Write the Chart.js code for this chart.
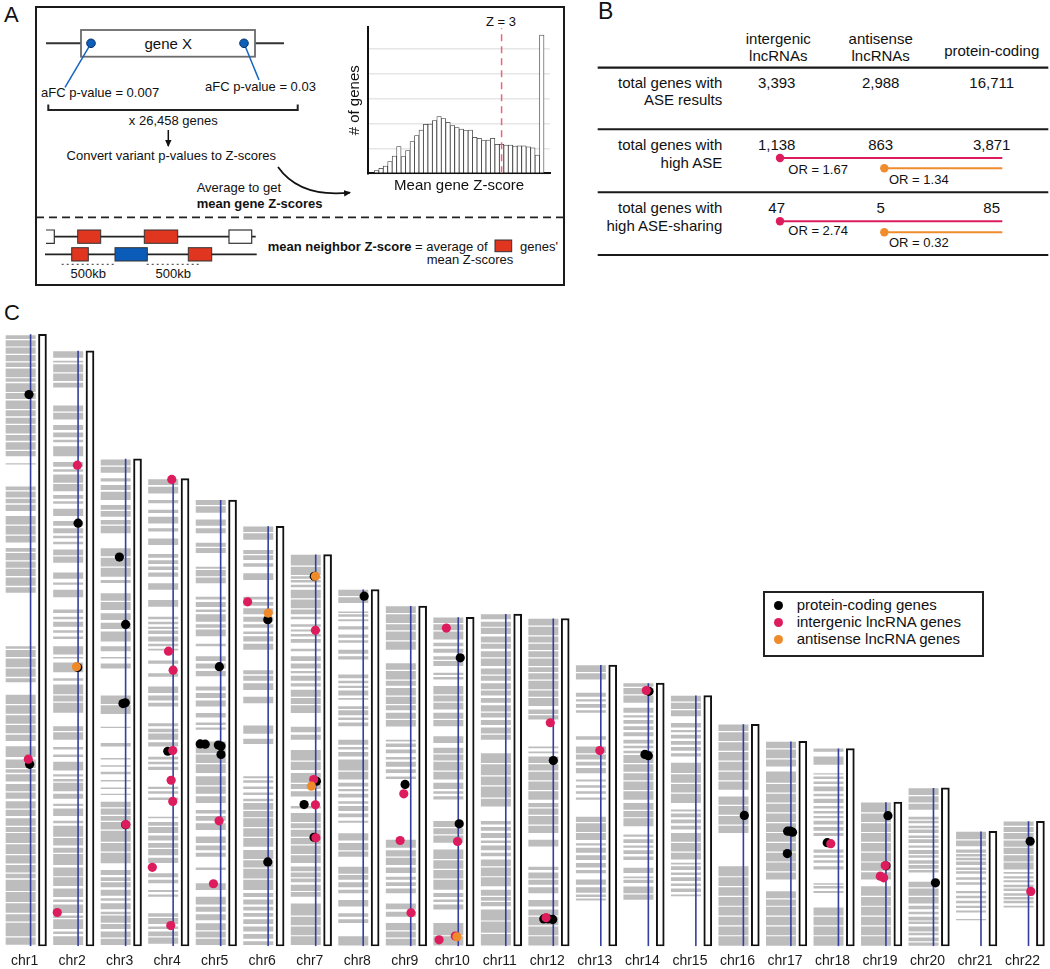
<!DOCTYPE html>
<html>
<head>
<meta charset="utf-8">
<script src="https://cdn.jsdelivr.net/npm/chart.js@4.4.1/dist/chart.umd.min.js"></script>
<style>
  html, body { margin: 0; padding: 0; background: #fff; overflow: hidden; }
  #page { position: relative; width: 1050px; height: 969px; overflow: hidden;
          font-family: 'Liberation Sans', Arial, sans-serif; color: #111; }
  #schematic { position: absolute; left: 0; top: 0; }
  #histWrap { position: absolute; left: 340px; top: 10px; }
  #karyoWrap { position: absolute; left: 0; top: 320px; }
  #legend { position: absolute; left: 763px; top: 591px; width: 221px; height: 66px;
            box-sizing: border-box; border: 2px solid #222; background: #fff; padding-top: 4.4px; }
  #legend .row { position: relative; height: 16.7px; line-height: 16.7px; font-size: 15px; padding-left: 31.7px; white-space: nowrap; }
  #legend .dot { position: absolute; left: 9.2px; top: 3.85px; width: 9px; height: 9px; border-radius: 50%; }
  svg text { font-family: 'Liberation Sans', Arial, sans-serif; fill: #111; }
</style>
</head>
<body>
<div id="page">

<svg id="schematic" width="1050" height="320" xmlns="http://www.w3.org/2000/svg">
  <defs>
    <marker id="arrowHead" markerWidth="8" markerHeight="8" refX="6" refY="4" orient="auto" markerUnits="userSpaceOnUse">
      <path d="M0,0.8 L7,4 L0,7.2 Z" fill="#111"/>
    </marker>
  </defs>

  <!-- panel A -->
  <text x="4" y="21.5" font-size="22">A</text>
  <rect x="36" y="7" width="528" height="278" fill="none" stroke="#1a1a1a" stroke-width="2"/>

  <line x1="46" y1="43.3" x2="284" y2="43.3" stroke="#333" stroke-width="2"/>
  <rect x="81" y="30" width="174" height="26.7" fill="#fff" stroke="#6b6b6b" stroke-width="1.8"/>
  <text x="168.3" y="48.6" font-size="15" text-anchor="middle">gene X</text>
  <line x1="91" y1="43.3" x2="65" y2="87.3" stroke="#1565c0" stroke-width="1.5"/>
  <line x1="244" y1="43.3" x2="259" y2="80" stroke="#1565c0" stroke-width="1.5"/>
  <circle cx="91" cy="43.3" r="4.3" fill="#0d5fb8" stroke="#0a2f6b" stroke-width="1"/>
  <circle cx="244" cy="43.3" r="4.3" fill="#0d5fb8" stroke="#0a2f6b" stroke-width="1"/>
  <text x="41" y="96.8" font-size="13">aFC p-value = 0.007</text>
  <text x="205" y="90.5" font-size="13">aFC p-value = 0.03</text>
  <path d="M48.3,104.5 V110 H297.7 V104.5" fill="none" stroke="#222" stroke-width="2"/>
  <text x="173.3" y="124.6" font-size="13" text-anchor="middle">x 26,458 genes</text>
  <line x1="168.3" y1="130" x2="168.3" y2="146" stroke="#111" stroke-width="1.5" marker-end="url(#arrowHead)"/>
  <text x="171.3" y="160.2" font-size="13" text-anchor="middle">Convert variant p-values to Z-scores</text>
  <path d="M278,167 Q300,198 350,192.6" fill="none" stroke="#111" stroke-width="1.8" marker-end="url(#arrowHead)"/>
  <text x="196.7" y="192.2" font-size="13">Average to get</text>
  <text x="196.7" y="207.8" font-size="13" font-weight="bold">mean gene Z-scores</text>
  <text x="501" y="26.3" font-size="13" text-anchor="middle">Z = 3</text>

  <line x1="36" y1="217.3" x2="564" y2="217.3" stroke="#222" stroke-width="1.8" stroke-dasharray="8,5"/>

  <line x1="46" y1="236.7" x2="255.7" y2="236.7" stroke="#222" stroke-width="1.8"/>
  <path d="M46,230 H54.3 V243.3 H46" fill="#fff" stroke="#333" stroke-width="1.2"/>
  <rect x="77.7" y="230" width="23" height="13.3" fill="#e0351f" stroke="#333" stroke-width="1"/>
  <rect x="144.3" y="230" width="33.4" height="13.3" fill="#e0351f" stroke="#333" stroke-width="1"/>
  <rect x="229" y="230" width="22.7" height="13.3" fill="#fff" stroke="#333" stroke-width="1.2"/>
  <line x1="45" y1="254.3" x2="256.7" y2="254.3" stroke="#222" stroke-width="1.8"/>
  <rect x="71.7" y="247.7" width="16.6" height="13.3" fill="#e0351f" stroke="#333" stroke-width="1"/>
  <rect x="115" y="247.7" width="32.3" height="13.3" fill="#0b5cb8" stroke="#333" stroke-width="1"/>
  <rect x="188.3" y="247.7" width="23.4" height="13.3" fill="#e0351f" stroke="#333" stroke-width="1"/>
  <line x1="61.7" y1="264.3" x2="115" y2="264.3" stroke="#333" stroke-width="1" stroke-dasharray="2,3"/>
  <line x1="146.7" y1="264.3" x2="201.7" y2="264.3" stroke="#333" stroke-width="1" stroke-dasharray="2,3"/>
  <text x="88.3" y="277.8" font-size="13" text-anchor="middle">500kb</text>
  <text x="173.3" y="277.8" font-size="13" text-anchor="middle">500kb</text>
  <text x="267.7" y="250.5" font-size="13"><tspan font-weight="bold">mean neighbor Z-score</tspan> = average of</text>
  <rect x="495" y="240" width="16.7" height="11.7" fill="#e0351f" stroke="#333" stroke-width="1"/>
  <text x="520" y="250.5" font-size="13">genes'</text>
  <text x="470" y="263.8" font-size="13" text-anchor="middle">mean Z-scores</text>

  <!-- panel B -->
  <text x="598" y="18.6" font-size="23">B</text>
  <text x="778.3" y="44.3" font-size="15" text-anchor="middle">intergenic</text>
  <text x="778.3" y="61" font-size="15" text-anchor="middle">lncRNAs</text>
  <text x="880.7" y="44.3" font-size="15" text-anchor="middle">antisense</text>
  <text x="880.7" y="61" font-size="15" text-anchor="middle">lncRNAs</text>
  <text x="991.7" y="56" font-size="15" text-anchor="middle">protein-coding</text>
  <line x1="597.7" y1="67.7" x2="1048.3" y2="67.7" stroke="#1a1a1a" stroke-width="2.2"/>
  <line x1="597.7" y1="129.3" x2="1048.3" y2="129.3" stroke="#1a1a1a" stroke-width="2"/>
  <line x1="597.7" y1="192.3" x2="1048.3" y2="192.3" stroke="#1a1a1a" stroke-width="2"/>
  <line x1="597.7" y1="255" x2="1048.3" y2="255" stroke="#1a1a1a" stroke-width="2"/>

  <text x="722.3" y="87.6" font-size="15" text-anchor="end">total genes with</text>
  <text x="722.3" y="105.3" font-size="15" text-anchor="end">ASE results</text>
  <text x="722.3" y="149.6" font-size="15" text-anchor="end">total genes with</text>
  <text x="722.3" y="167.6" font-size="15" text-anchor="end">high ASE</text>
  <text x="722.3" y="213" font-size="15" text-anchor="end">total genes with</text>
  <text x="722.3" y="231.3" font-size="15" text-anchor="end">high ASE-sharing</text>

  <text x="776.7" y="87.6" font-size="15" text-anchor="middle">3,393</text>
  <text x="880.7" y="87.6" font-size="15" text-anchor="middle">2,988</text>
  <text x="991.7" y="87.6" font-size="15" text-anchor="middle">16,711</text>
  <text x="776.7" y="149.6" font-size="15" text-anchor="middle">1,138</text>
  <text x="880.7" y="149.6" font-size="15" text-anchor="middle">863</text>
  <text x="991.7" y="149.6" font-size="15" text-anchor="middle">3,871</text>
  <text x="776.7" y="213" font-size="15" text-anchor="middle">47</text>
  <text x="880.7" y="213" font-size="15" text-anchor="middle">5</text>
  <text x="991.7" y="213" font-size="15" text-anchor="middle">85</text>

  <line x1="780" y1="158" x2="1002.3" y2="158" stroke="#dc1c5c" stroke-width="2"/>
  <circle cx="780" cy="158" r="4.2" fill="#dc1c5c"/>
  <text x="788.3" y="173.6" font-size="13">OR = 1.67</text>
  <line x1="884.3" y1="168.3" x2="1002.3" y2="168.3" stroke="#f08c2e" stroke-width="2"/>
  <circle cx="884.3" cy="168.3" r="4.2" fill="#f08c2e"/>
  <text x="889" y="183.9" font-size="13">OR = 1.34</text>
  <line x1="780" y1="221.3" x2="1002.3" y2="221.3" stroke="#dc1c5c" stroke-width="2"/>
  <circle cx="780" cy="221.3" r="4.2" fill="#dc1c5c"/>
  <text x="788.3" y="235.3" font-size="13">OR = 2.74</text>
  <line x1="884.3" y1="232.3" x2="1002.3" y2="232.3" stroke="#f08c2e" stroke-width="2"/>
  <circle cx="884.3" cy="232.3" r="4.2" fill="#f08c2e"/>
  <text x="889" y="247.3" font-size="13">OR = 0.32</text>

  <!-- panel C label -->
  <text x="4" y="319.5" font-size="22">C</text>
</svg>

<div id="histWrap"><canvas id="hist" width="214" height="190"></canvas></div>
<div id="karyoWrap"><canvas id="karyo" width="1050" height="657"></canvas></div>

<div id="legend">
  <div class="row"><span class="dot" style="background:#000"></span>protein-coding genes</div>
  <div class="row"><span class="dot" style="background:#dd1c5e"></span>intergenic lncRNA genes</div>
  <div class="row"><span class="dot" style="background:#ef8a2b"></span>antisense lncRNA genes</div>
</div>

</div>
<script>
// ---- panel A histogram: mean gene Z-score bins ----
var zBins = [0.2, 0.3, 0.4, 0.5, 0.6, 0.7, 0.8, 0.9, 1.0, 1.1, 1.2, 1.3, 1.4, 1.5, 1.6, 1.7, 1.8, 1.9, 2.0,
             2.1, 2.2, 2.3, 2.4, 2.5, 2.6, 2.7, 2.8, 2.9, 3.0, 3.1, 3.2, 3.3, 3.4, 3.5, 3.6, 3.7, 3.8, 3.9];
var geneCounts = [11, 20, 29, 47, 69, 107, 67, 91, 127, 151, 173, 196, 197, 211, 227, 219, 204, 191, 183,
                  177, 171, 173, 144, 140, 131, 133, 140, 116, 116, 113, 113, 109, 110, 110, 106, 102, 73, 553];
var zThreshold = 3;

// ---- panel C: chromosomes (hg38 lengths, Mb) ----
var chromNames = ['chr1', 'chr2', 'chr3', 'chr4', 'chr5', 'chr6', 'chr7', 'chr8', 'chr9', 'chr10', 'chr11',
                  'chr12', 'chr13', 'chr14', 'chr15', 'chr16', 'chr17', 'chr18', 'chr19', 'chr20', 'chr21', 'chr22'];
var chromLengthsMb = [248.96, 242.19, 198.3, 190.2, 181.5, 170.8, 159.3, 145.1, 138.4, 133.8, 135.1,
                      133.3, 114.4, 107.0, 102.0, 90.3, 83.3, 80.4, 58.6, 64.4, 46.7, 50.8];

// tested gene regions per chromosome, start/end pairs in Mb
var geneBandsMb = [
  [0.6,3.5, 4,9.5, 10,13, 13.6,17.5, 18,22, 22.5,27, 27.6,29.5, 30,33, 33.6,37, 37.5,41.5, 42,46, 46.5,48.5, 49,52, 53,55.5, 56,59, 60,62.5, 63,66, 67,70, 70.6,72, 72.5,76, 77,81.3, 83.5,86, 86.6,90, 90.5,94, 94.6,98, 98.5,102.3, 107.4,109, 109.6,113, 113.5,117, 117.6,120.5, 121,122, 143.8,146, 146.6,150, 150.6,153.5, 154,156.5, 157,160, 160.5,162, 164.2,167, 167.5,171, 171.6,175, 177,179.6, 180.2,182, 182.5,185, 185.5,187, 196,196.5, 199.3,201.5, 202,205, 205.6,208, 208.6,212, 212.5,215, 215.6,218, 218.5,222, 222.6,225, 225.5,229, 229.6,231, 231.5,235, 235.6,237.5, 238,240.5, 241,243.6, 244,246.5, 247,248.5],
  [0.5,4, 5,6, 7,11, 11.5,12.5, 13.5,17, 18,19, 20,23.5, 24.5,28, 28.5,32, 33,37.5, 38,40, 41,44, 44.5,49, 50,51, 53,56, 57,58, 60,62, 63,66.5, 67,68, 69,70, 71.5,75, 77,78, 80,81, 84,87, 87.5,89.5, 95,99, 99.5,102, 102.5,106.5, 108,109, 111.4,115.4, 117,117.6, 118.7,122, 125,126, 127.5,128.5, 130,132, 133,134, 135.5,137, 142,145, 147,148, 149.5,152, 156,158.5, 159,161.4, 163.5,164.5, 166,167, 168,170, 171,173, 175,178, 180,181, 182,183.5, 185.1,188, 188.5,191.9, 193,194, 195,197, 199.3,203.4, 205,206, 207,209, 210,212, 214.3,217, 217.5,220, 227.3,229.2, 229.9,233, 233.5,236.7, 237.5,238.2, 239.4,242],
  [0.5,3, 3.5,6, 7,9, 9.5,12.5, 13,14, 15,17.5, 18.5,19.5, 20.5,23, 24,26, 26.5,28, 29,31, 33.7,38, 38.5,42, 42.5,47, 47.5,50.5, 51,53, 53.5,56, 56.5,58.8, 61.5,62, 64,64.6, 67,67.6, 70,71, 73,73.6, 76,76.6, 81.2,82.7, 88.8,89.3, 94.5,98, 98.5,102, 113,115, 117,117.6, 120,122, 124,128, 129,131.6, 132.7,135.4, 136.8,140, 140.5,143.6, 147.8,149, 150.3,154, 154.5,158, 158.6,161.9, 168,171, 171.5,173.4, 174.7,177, 177.5,179.5, 181.5,184.9, 185.6,187.6, 189,190.4, 192.6,195, 195.5,198],
  [1,3.5, 4,6, 7,8, 9,11.5, 12,13.4, 20.1,21, 22,22.9, 25.6,27, 28,29.7, 33.8,36, 37,39.5, 40,42, 43,45, 46,48.5, 49,50.5, 52,52.7, 59.5,60.5, 62,63, 64,64.9, 71.7,73, 74,75, 76,77.1, 81.2,83, 84,86.5, 87,88.5, 89.5,90.7, 97.5,99, 100,102, 103,105.6, 109.6,111, 114.9,116.2, 120.3,121, 122,123, 124,126, 127,128.4, 129,130, 131,132, 133,134, 138.1,140.8, 145,147.6, 150.3,152, 153,154.5, 155.5,157, 158,159.5, 163.2,165.9, 168.7,170, 172,174.7, 176.2,177.5, 180.2,181.5, 184.2,186.9, 187.6,190],
  [0.5,3, 3.5,6, 6.5,9.3, 10.6,13, 14,16, 17,20.1, 22.9,25.6, 31,32, 36.4,38, 39,41, 42,44.6, 47.3,50, 51,53, 54,55.4, 58.3,61, 62,65, 65.5,69.1, 70.5,74, 74.5,78, 78.5,83.3, 88.1,89, 90,91, 93,94.9, 97.5,100, 101,103, 104,105.6, 109.8,112, 113,115, 116,118, 122,123, 126.1,128.8, 129.5,131, 132,135, 136,137, 138,140, 141,142.2, 147.6,150, 150.5,153, 153.5,154.4, 160,162, 162.5,164.1, 168,170, 171,173.6, 176.3,179, 179.5,181.5],
  [0.5,2, 3,5, 6,8, 9,11, 12,13.5, 14.5,16, 17,19, 20,21.6, 22.9,27, 27.5,31.5, 32,35, 35.5,39.1, 40.5,44, 44.5,48, 48.5,52, 52.5,55, 55.5,58.3, 59,60, 61.5,62.5, 64,65, 66.5,67.5, 68.3,69.1, 82.3,84.4, 86.4,89.8, 98.8,101.5, 104.2,107, 108,110, 110.6,112.3, 120.6,123, 124,126.1, 127,128, 129.5,131, 132,134, 135,137.5, 138.5,140, 141,142.2, 149,151.7, 154.4,155.8, 157.1,159, 159.5,161.2, 165.3,168, 168.5,170.7],
  [0.5,4, 4.5,8, 8.5,12, 12.5,17.4, 20.1,22, 22.5,25, 26,27.5, 28,30, 30.5,32.4, 33.8,37, 37.5,41, 41.5,44, 44.5,47.4, 48,50, 50.5,54.2, 56,57, 60.9,63, 64,66, 66.5,70.5, 71.7,75, 75.5,79.8, 84,86, 87,89.3, 94.9,98, 98.5,101, 101.5,104.3, 105.6,107, 108,110, 111,112, 113,115, 116,118, 120,121, 123.4,125, 126,127, 128,128.8, 130,131, 133,134, 135,137, 137.5,141, 141.5,145, 146,147, 148,149, 149.5,150.5, 151,154.4, 154.9,159.2],
  [0.3,4, 9.4,11, 12,13.4, 16.1,18.8, 21.5,23, 24,26, 27,29, 29.5,32.3, 36.4,38.5, 39,42, 43,45.9, 50.2,51, 52.5,54, 55,57, 58,59, 60.5,62, 63,64, 65,66.5, 67.8,71, 71.5,75.9, 77.2,79, 80,81, 82,84, 89.5,91, 92,93, 94,96, 96.5,97.6, 100.3,101, 102,104, 105,106, 107,108, 109,110.5, 116.6,118, 119,120.6, 123.4,124.5, 125.5,126.8, 128.8,130.2, 132.2,133, 134,135, 135.5,136.2, 139.6,142, 142.5,145],
  [0.3,3, 3.5,6, 6.5,9.4, 12,14, 15,17.4, 21.5,23.5, 24.5,26, 27,28.3, 29.8,32, 33,36, 36.5,39, 40,43.3, 68,69, 70.5,72, 73,75, 76,77, 78.5,80, 81,82.5, 83.3,84, 89.4,92, 92.5,95, 96,98, 98.5,101.5, 102,105, 106,108, 108.5,112, 112.5,115.1, 120.6,124, 124.5,128, 128.5,131, 131.5,135, 135.5,138.3],
  [0.3,4, 4.5,9.4, 14.9,17, 18,19, 20,21.6, 23,27, 27.5,31, 31.5,35, 35.5,39.3, 42.1,45, 45.5,48, 48.5,50.9, 59.7,61, 62,63, 64,66.5, 67.8,71, 71.5,75, 75.5,78, 78.5,80.7, 82.7,85.4, 89.5,92, 92.5,95, 96.3,99, 99.5,102, 102.5,105.8, 108.5,109.5, 110.3,111.2, 114,116, 116.5,118, 119.4,121, 122,123.4, 124.8,128, 128.5,131, 131.5,133.7],
  [0.3,5, 5.5,10, 10.5,14.9, 16.3,18, 18.5,20, 20.5,23, 24.4,28, 28.5,32, 32.5,35.3, 36.6,38, 39,41, 42,43, 44,46, 47,48.5, 49.5,50.9, 56.8,60, 60.5,65, 65.5,69, 69.5,74, 74.5,78.5, 84,86, 86.5,89, 90,92, 93,95, 95.5,98, 99,101, 102,104, 104.5,107, 108,110, 110.5,113, 114,117, 117.5,120, 121,123, 123.5,126, 127,129.5, 130,132, 133,135],
  [0.3,4, 4.5,8, 8.5,12, 12.5,14.9, 16.1,18.8, 21.5,24, 25,27, 27.5,30, 31,32.3, 40.6,43.3, 46.1,49, 49.5,53, 53.5,56, 56.5,58.3, 59.6,63, 63.5,67, 67.5,71, 71.5,74, 74.5,77.2, 78.5,79.2, 80.5,81.2, 92.2,94, 94.5,96.3, 97.7,101, 101.5,104, 104.5,108, 108.5,111, 111.5,113.5, 114,117, 117.5,120, 120.5,123, 123.5,126, 126.5,130, 130.5,133.2],
  [18.6,19.4, 20,21, 21.7,24, 25,27.1, 29.7,31, 32,33.8, 35.1,37, 38,40, 41,41.9, 43.2,46, 46.5,50, 50.5,52.7, 59.6,60.5, 62,63, 64.5,65.5, 67,67.8, 70.4,72.5, 73.5,75, 76,78, 78.5,81.2, 84,85.4, 95,96, 97,98.5, 99.5,100.5, 101.5,103.1, 108.5,111, 111.5,114.3],
  [18.9,21, 21.5,24.3, 25.7,27, 27.6,28.4, 29.8,31.9, 35.1,36.5, 37.5,39, 40,41, 42,43.5, 44.5,45.4, 48.8,52, 52.5,55, 55.5,58.3, 59.6,63, 63.5,67, 67.5,70.4, 71,74, 74.5,77.8, 78.5,79.5, 80.5,81.5, 82.5,84, 85.4,87, 88,89.5, 90.5,92, 93,94, 95,97, 99,102, 102.5,105, 105.5,107],
  [20.3,21, 22,23.5, 24.5,25.5, 26.5,28, 29,30, 31,32.5, 33.2,33.9, 35.3,38, 38.5,42, 42.5,46.1, 47.5,49, 50,51.5, 52.5,54, 54.8,55.6, 58.3,62, 62.5,66, 66.5,70, 70.5,74.6, 77.2,78.5, 79.5,81, 82,83.5, 84.5,86, 87,88, 89,90.8, 93.5,96, 96.5,99, 99.5,101.9],
  [0.2,4, 4.5,8, 8.5,12, 12.5,16, 16.5,20, 20.5,24, 24.5,28, 28.5,32.5, 46.1,49, 49.5,53, 53.5,57, 57.5,60.9, 63.6,67, 67.5,71, 71.5,75, 75.5,79, 79.5,83, 83.5,87, 87.5,90.2],
  [0.2,4, 4.5,8, 8.5,12, 12.5,16, 16.5,19, 19.5,22.4, 27.1,30, 30.5,34, 34.5,38, 38.5,42, 42.5,46, 46.5,50, 50.5,54, 54.5,58, 58.5,62, 62.5,66, 66.5,71.1, 73.1,76, 76.5,80, 80.5,83.2],
  [0.2,4, 4.5,8, 8.5,12, 12.5,15.7, 21.6,22.5, 23.5,24.5, 25,25.6, 31.2,32.5, 33.9,35, 36,37, 38,39.3, 44.8,46, 47,48.5, 49.5,51, 52,53, 54,55, 56,57, 58.3,60, 61,62, 63,65, 66,67, 68,69, 69.8,70.4, 73.8,77.2, 79.1,80.4],
  [0.2,4, 4.5,8, 8.5,12, 12.5,16, 16.5,20, 20.5,24.4, 27.1,30.1, 30.7,34, 34.5,38, 38.5,42, 42.5,46, 46.5,50, 50.5,54, 54.5,58.5],
  [0.2,1.5, 2,3.5, 4.5,5.5, 6,8, 9,10, 10.5,12, 13,14, 15,16.5, 17.4,20, 20.5,23.5, 24,26.2, 30,31, 31.5,33, 33.5,35, 36,37, 37.5,39.1, 40,41, 42,43.5, 44,45, 46,47.5, 48,49, 50,51, 51.5,52.7, 55.5,58, 58.5,61, 61.5,64.3],
  [10.6,11.1, 13.7,14.5, 15.5,16.5, 17.5,18.5, 19.5,20.5, 21.5,22.5, 25,26, 27,28, 29.5,30.5, 31,32, 33,34.5, 35,36, 36.5,37.5, 38,39.3, 40.7,43, 43.5,46.6],
  [15.7,16.5, 17.5,18.5, 19,20, 20.5,21.5, 22.5,23.5, 24,25, 26,26.8, 27.5,28.5, 29.5,30.2, 31.2,34, 34.5,37, 37.5,40, 40.5,43, 43.5,46, 46.5,48.5, 49,50.7]
];

// genes with high ASE-sharing: [chromosome, position Mb, horizontal jitter]
var codingHits = [
  [1,224.4,-0.033], [1,74.0,-0.02], [2,172.1,0], [2,113.4,-0.008], [3,158.3,-0.131], [3,130.9,0],
  [3,98.7,-0.056], [3,99.0,-0.006], [3,49.4,0], [4,79.3,-0.113], [5,113.7,-0.027], [5,82.3,-0.43],
  [5,82.2,-0.325], [5,81.8,-0.048], [5,81.4,0.008], [5,78.0,0.008], [6,132.8,-0.008], [6,34.3,-0.008],
  [7,150.5,-0.03], [7,67.1,0.015], [7,57.6,-0.244], [7,44.3,-0.035], [8,142.4,0.02], [9,65.8,-0.119],
  [10,117.3,0.042], [10,49.8,0.02], [12,75.5,0], [12,11.1,-0.2], [12,11.1,-0.11], [12,10.9,-0.013],
  [14,103.7,0.013], [14,78.0,-0.071], [14,77.5,0], [16,53.2,0.02], [17,46.8,-0.069], [17,46.8,-0.013],
  [17,46.4,0.035], [17,37.7,-0.075], [18,42.1,-0.236], [19,53.1,0.042], [19,32.7,0], [20,25.8,0.042],
  [22,42.7,0.035]
];
var intergenicHits = [
  [1,76.1,-0.048], [2,195.7,-0.015], [2,13.7,-0.438], [3,49.5,0.004], [4,189.9,-0.029], [4,120.0,-0.098],
  [4,112.3,0], [4,79.6,-0.008], [4,67.5,-0.042], [4,58.9,-0.008], [4,32.1,-0.438], [4,8.4,-0.05],
  [5,51.0,-0.033], [5,25.4,-0.152], [6,140.1,-0.432], [7,128.5,-0.006], [7,67.8,-0.042], [7,57.5,-0.006],
  [7,44.1,0.006], [9,62.0,-0.146], [9,43.0,-0.223], [9,13.6,0.006], [10,129.4,-0.25], [10,42.6,-0.015],
  [10,2.6,-0.403], [10,4.1,-0.063], [12,90.9,-0.063], [12,11.6,-0.152], [13,79.6,-0.021], [14,104.0,-0.042],
  [18,41.7,-0.161], [19,32.8,-0.015], [19,28.5,-0.119], [19,27.8,-0.048], [22,22.3,0.048]
];
var antisenseHits = [
  [2,113.7,-0.035], [6,135.5,0], [7,150.5,-0.006], [7,65.1,-0.09], [10,3.8,-0.027]
];

Chart.defaults.font.family = "'Liberation Sans', Arial, sans-serif";
Chart.defaults.color = '#111';

// ---------- histogram ----------
new Chart(document.getElementById('hist').getContext('2d'), {
    type: 'bar',
    data: {
        datasets: [{
            type: 'line',
            data: [{ x: zThreshold, y: 0 }, { x: zThreshold, y: 580 }],
            borderColor: '#f06574',
            borderWidth: 1.5,
            borderDash: [7, 5],
            pointRadius: 0,
            order: 0
        }, {
            type: 'bar',
            data: zBins.map(function (z, i) { return { x: z, y: geneCounts[i] }; }),
            backgroundColor: '#ffffff',
            borderColor: '#3a3a3a',
            borderWidth: 0.8,
            barPercentage: 1,
            categoryPercentage: 1,
            order: 1
        }]
    },
    options: {
        responsive: false,
        animation: false,
        events: [],
        layout: { padding: { left: 2.3, right: 4, top: 17.3, bottom: 0.7 } },
        plugins: { legend: { display: false }, tooltip: { enabled: false } },
        scales: {
            x: {
                type: 'linear', min: 0.0157, max: 4.084, offset: false,
                grid: { display: false, drawTicks: false },
                border: { display: true, color: '#111', width: 2 },
                ticks: { display: false },
                afterBuildTicks: function (scale) { scale.ticks = [{ value: 1 }, { value: 2 }, { value: 3 }]; },
                title: { display: true, text: 'Mean gene Z-score', font: { size: 15 }, color: '#111' }
            },
            y: {
                min: 0, max: 584,
                grid: { color: '#e6e6e6', lineWidth: 1.5, drawTicks: false },
                border: { display: true, color: '#111', width: 2 },
                ticks: { display: false },
                afterBuildTicks: function (scale) {
                    scale.ticks = [0, 100, 200, 300, 400, 500].map(function (v) { return { value: v }; });
                },
                title: { display: true, text: '# of genes', font: { size: 15 }, color: '#111' }
            }
        }
    }
});

// ---------- karyogram ----------
var BLUE_OFF = 0.5465, GRAY_OFF = 0.338, RECT_OFF = 0.797, LABEL_OFF = 0.4214;

var bandPoints = [];
geneBandsMb.forEach(function (bands, i) {
    for (var k = 0; k < bands.length; k += 2) {
        bandPoints.push({ x: i + GRAY_OFF, y: [bands[k], bands[k + 1]] });
    }
});

function hitPoints(list) {
    return list.map(function (h) { return { x: h[0] - 1 + BLUE_OFF + h[2], y: h[1] }; });
}

function dotSet(list, color, order) {
    return {
        type: 'scatter',
        data: hitPoints(list),
        backgroundColor: color,
        borderColor: color,
        borderWidth: 0,
        pointRadius: 4.6,
        pointHoverRadius: 4.6,
        order: order
    };
}

new Chart(document.getElementById('karyo').getContext('2d'), {
    type: 'bar',
    data: {
        datasets: [
            dotSet(antisenseHits, '#ef8a2b', 1),
            dotSet(intergenicHits, '#dd1c5e', 2),
            dotSet(codingHits, '#000000', 3),
            {
                type: 'bar',
                data: chromLengthsMb.map(function (L, i) { return { x: i + RECT_OFF, y: [0, L] }; }),
                backgroundColor: '#ffffff',
                borderColor: '#111111',
                borderWidth: 2,
                borderSkipped: false,
                barThickness: 8,
                grouped: false,
                order: 4
            },
            {
                type: 'bar',
                data: chromLengthsMb.map(function (L, i) { return { x: i + BLUE_OFF, y: [0, L] }; }),
                backgroundColor: '#343f9e',
                borderWidth: 0,
                barThickness: 1.6,
                grouped: false,
                inflateAmount: 0,
                order: 5
            },
            {
                type: 'bar',
                data: bandPoints,
                backgroundColor: '#bdbdbd',
                borderWidth: 0,
                barThickness: 30,
                grouped: false,
                inflateAmount: 0,
                order: 6
            }
        ]
    },
    options: {
        responsive: false,
        animation: false,
        events: [],
        layout: { padding: { left: 0, right: 0, top: 6, bottom: 0 } },
        plugins: { legend: { display: false }, tooltip: { enabled: false } },
        scales: {
            x: {
                type: 'linear', min: 0, max: 21.902, offset: false,
                grid: { display: false, drawTicks: false, offset: false },
                border: { display: false },
                afterBuildTicks: function (scale) {
                    scale.ticks = chromNames.map(function (n, i) { return { value: i + LABEL_OFF }; });
                },
                afterFit: function (scale) {
                    // labels fit inside the plot width, keep the full width for the tracks
                    scale.paddingLeft = 0;
                    scale.paddingRight = 0;
                },
                ticks: {
                    autoSkip: false, maxRotation: 0, padding: 7,
                    font: { size: 14 }, color: '#1a1a1a',
                    callback: function (v, idx) { return chromNames[idx]; }
                }
            },
            y: {
                type: 'linear', min: 0, max: 252.3, display: false
            }
        }
    }
});
</script>
</body>
</html>
